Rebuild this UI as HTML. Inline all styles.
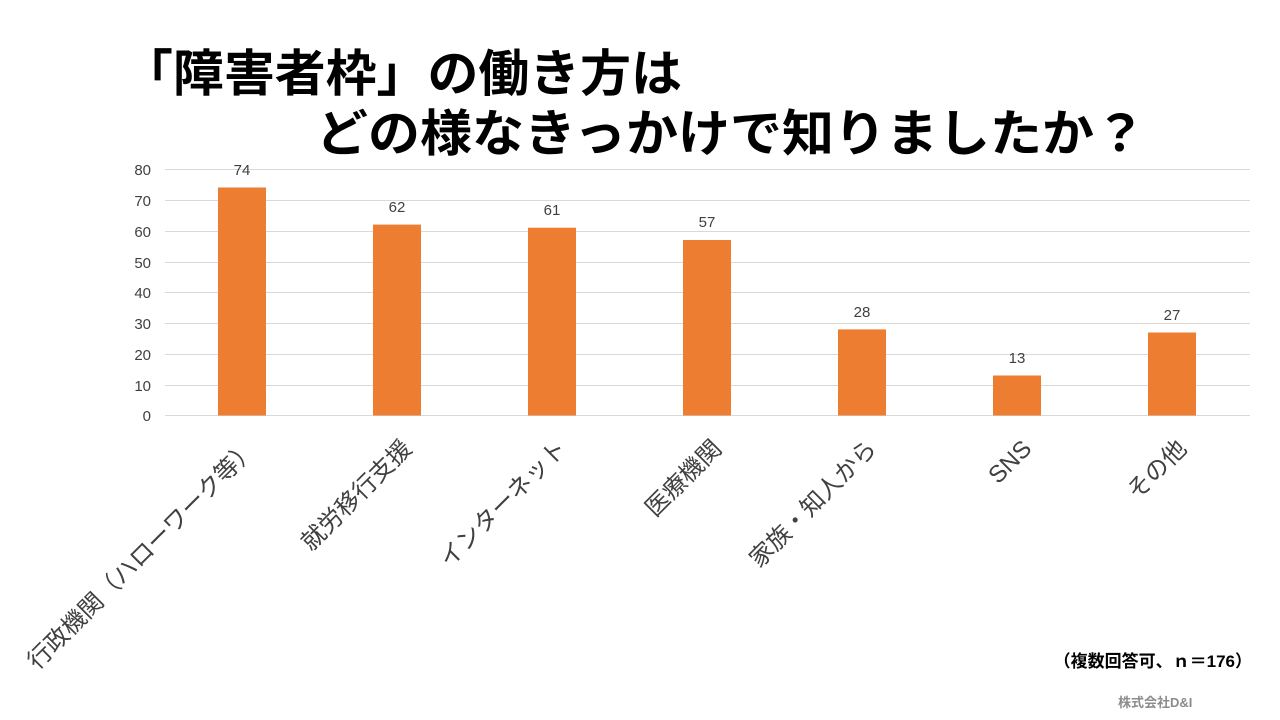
<!DOCTYPE html>
<html><head><meta charset="utf-8"><style>
body{margin:0;background:#fff;}
svg{display:block;font-family:"Liberation Sans","Noto Sans CJK JP",sans-serif;}
</style></head><body>
<svg width="1280" height="720" viewBox="0 0 1280 720">
<rect width="1280" height="720" fill="#fff"/>
<text x="122" y="91" font-size="50" font-weight="bold" fill="#000" textLength="560" lengthAdjust="spacingAndGlyphs">「障害者枠」の働き方は</text>
<text x="316" y="151" font-size="50" font-weight="bold" fill="#000" textLength="830" lengthAdjust="spacingAndGlyphs">どの様なきっかけで知りましたか？</text>
<g stroke="#d9d9d9" stroke-width="1">
<line x1="165" x2="1250" y1="169.5" y2="169.5"/>
<line x1="165" x2="1250" y1="200.5" y2="200.5"/>
<line x1="165" x2="1250" y1="231.5" y2="231.5"/>
<line x1="165" x2="1250" y1="262.5" y2="262.5"/>
<line x1="165" x2="1250" y1="292.5" y2="292.5"/>
<line x1="165" x2="1250" y1="323.5" y2="323.5"/>
<line x1="165" x2="1250" y1="354.5" y2="354.5"/>
<line x1="165" x2="1250" y1="385.5" y2="385.5"/>
<line x1="165" x2="1250" y1="415.5" y2="415.5"/>
</g>
<g font-size="15" fill="#404040" text-anchor="end">
<text x="151" y="175">80</text><text x="151" y="206">70</text><text x="151" y="237">60</text>
<text x="151" y="268">50</text><text x="151" y="298">40</text><text x="151" y="329">30</text>
<text x="151" y="360">20</text><text x="151" y="391">10</text><text x="151" y="421">0</text>
</g>
<g fill="#ed7d31">
<rect x="218" y="187.5" width="48" height="228"/>
<rect x="373" y="224.6" width="48" height="190.9"/>
<rect x="528" y="227.7" width="48" height="187.8"/>
<rect x="683" y="240" width="48" height="175.5"/>
<rect x="838" y="329.4" width="48" height="86.1"/>
<rect x="993" y="375.5" width="48" height="40"/>
<rect x="1148" y="332.5" width="48" height="83"/>
</g>
<g font-size="15" fill="#404040" text-anchor="middle">
<text x="242" y="175">74</text><text x="397" y="212">62</text><text x="552" y="215">61</text>
<text x="707" y="227">57</text><text x="862" y="317">28</text><text x="1017" y="363">13</text>
<text x="1172" y="320">27</text>
</g>
<g font-size="24" fill="#404040" text-anchor="end">
<text transform="translate(258,450) rotate(-45)">行政機関（ハローワーク等）</text>
<text transform="translate(413,450) rotate(-45)">就労移行支援</text>
<text transform="translate(568,450) rotate(-45)">インターネット</text>
<text transform="translate(723,450) rotate(-45)">医療機関</text>
<text transform="translate(878,450) rotate(-45)">家族・知人から</text>
<text transform="translate(1033,450) rotate(-45)">SNS</text>
<text transform="translate(1188,450) rotate(-45)">その他</text>
</g>
<text x="1252" y="667" font-size="17" font-weight="bold" text-anchor="end" fill="#000">（複数回答可、ｎ＝176）</text>
<text x="1118" y="707" font-size="13" font-weight="bold" fill="#8c8c8c">株式会社D&amp;I</text>
</svg>
</body></html>
